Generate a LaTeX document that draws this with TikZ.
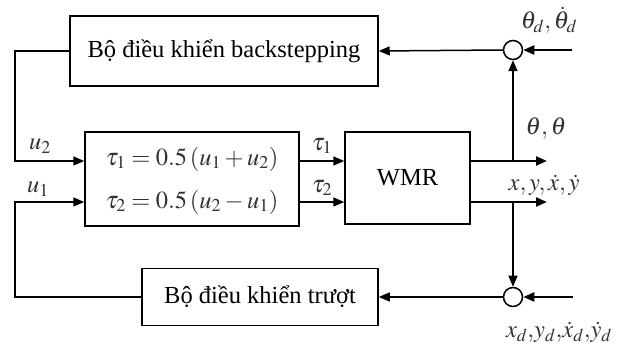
\documentclass[tikz,border=0pt]{standalone}
\usepackage{mathptmx}
\usepackage{fontspec}
\setmainfont{Liberation Serif}
\usetikzlibrary{arrows.meta}
\begin{document}
\begin{tikzpicture}[x=1pt,y=-1pt,
  every node/.style={font=\fontsize{24.5}{28}\selectfont},
  blk/.style={draw,line width=1.5pt,inner sep=0pt},
  sumc/.style={draw,circle,line width=1.5pt,minimum size=19pt,inner sep=0pt,fill=white},
  con/.style={line width=1.5pt},
  arr/.style={con,-{Triangle[length=11pt,width=9pt]}},
  thk/.style={line width=2.2pt},
  lbl/.style={text=black!80,inner sep=0pt}]
\useasboundingbox (0,0) rectangle (619,347);
\node[blk,minimum width=308pt,minimum height=70pt] (tb) at (224,51) {Bộ điều khiển backstepping};
\node[blk,minimum width=214pt,minimum height=94pt] (mb) at (192,179) {};
\node[lbl] (f1) at (192,159) {$\tau_1=0.5\left(u_1+u_2\right)$};
\node[lbl] (f2) at (192,202) {$\tau_2=0.5\left(u_2-u_1\right)$};
\node[blk,minimum width=125pt,minimum height=92pt] (wmr) at (407.5,178) {WMR};
\node[blk,minimum width=236pt,minimum height=57pt] (bb) at (260,297) {Bộ điều khiển trượt};
\node[sumc] (s1) at (513,50) {};
\node[sumc] (s2) at (513,297) {};
\coordinate (r1) at (0,161);
\coordinate (r2) at (0,202);
\coordinate (lx) at (15,0);
\coordinate (in1) at (572,50);
\coordinate (in2) at (573,297);
\coordinate (o1) at (547,161);
\coordinate (o2) at (547,202);
\coordinate (j1) at (513,161);
\coordinate (j2) at (513,202);
\draw[arr,thk] (in1) -- (s1.east);
\draw[arr] (s1.west) -- (tb.east);
\draw[arr] (tb.west) -- (lx |- tb.west) -- (lx |- r1) -- (mb.west |- r1);
\draw[arr] (bb.west) -- (lx |- bb.west) -- (lx |- r2) -- (mb.west |- r2);
\draw[arr] (mb.east |- r1) -- (wmr.west |- r1);
\draw[arr] (mb.east |- r2) -- (wmr.west |- r2);
\draw[arr,thk] (wmr.east |- r1) -- (o1);
\draw[arr,thk] (wmr.east |- r2) -- (o2);
\draw[arr] (j1) -- (s1.south);
\draw[arr] (j2) -- (s2.north);
\draw[arr,thk] (in2) -- (s2.east);
\draw[arr] (s2.west) -- (bb.east);
\node[lbl] (lu2) at (40,146) {$u_2$};
\node[lbl] (lu1) at (38,189) {$u_1$};
\node[lbl] (lt1) at (322,146) {$\tau_1$};
\node[lbl] (lt2) at (322,188) {$\tau_2$};
\node[lbl] (lthd) at (549,20) {$\theta_d,\dot\theta_d$};
\node[lbl] (lth) at (546,128) {$\theta,\theta$};
\node[lbl] (lxy) at (544,185) {$x,y,\dot x,\dot y$};
\node[lbl] (lxd) at (559,332) {$x_d{,}y_d{,}\dot x_d{,}\dot y_d$};
\end{tikzpicture}
\end{document}
